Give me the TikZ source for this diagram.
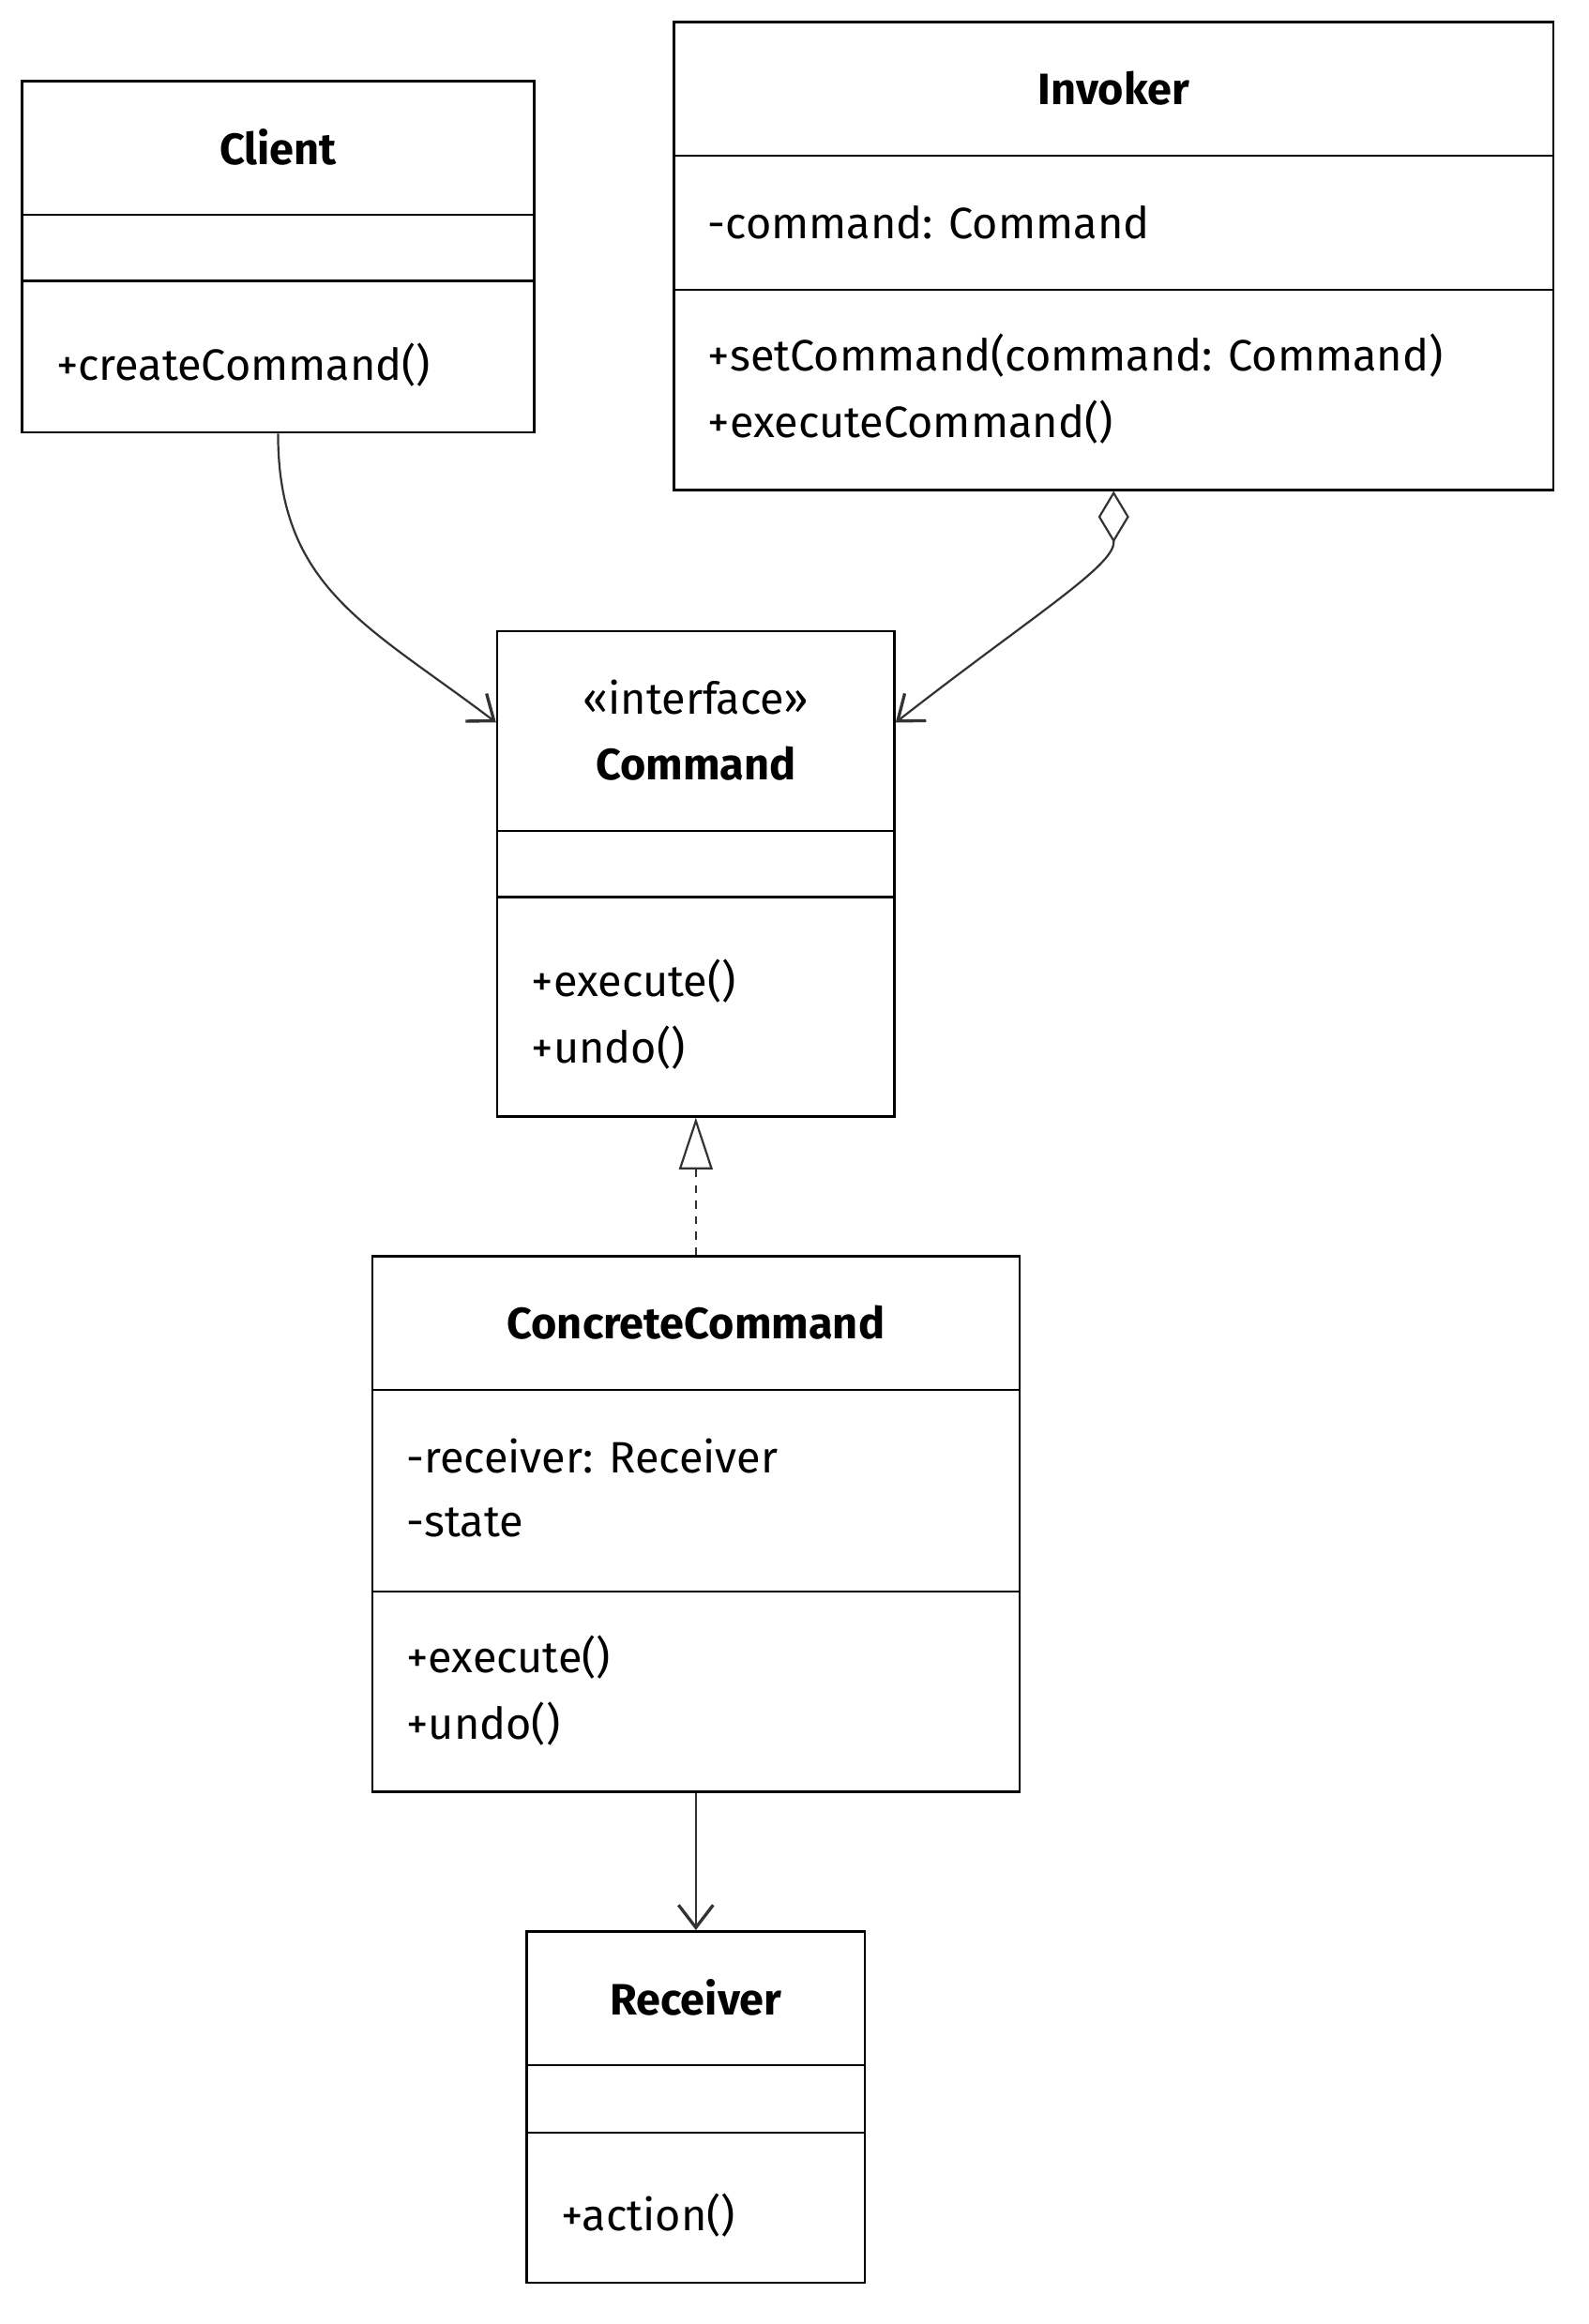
\documentclass[tikz,border=0pt]{standalone}
\usepackage{fontspec}
\setmainfont{Fira Sans}
\usetikzlibrary{arrows.meta, calc, fit, positioning}
\tikzset{
  box/.style={draw, line width=0.9pt, inner sep=0pt, fill=white},
  title/.style={font=\fontsize{17}{20}\selectfont\bfseries, anchor=center},
  member/.style={font=\fontsize{17}{20}\selectfont, anchor=west, inner sep=0pt},
  link/.style={draw=black!80, line width=0.8pt},
  tip/.style={-{Straight Barb[angle=75:11pt, line width=1.2pt]}},
}
\begin{document}
\begin{tikzpicture}[x=0.02cm, y=-0.02cm]
    \useasboundingbox (0,0) rectangle (1080,1580);
    % Client
    \node[box, fit={(15,55) (363,294)}] (client) {};
    \draw[line width=0.9pt] (15,146) -- (363,146) (15,191) -- (363,191);
    \node[title] (clientname) at (189,100) {Client};
    \node[member] (clientop) at (38,248) {+createCommand()};

    % Invoker
    \node[box, fit={(458,15) (1056,333)}] (invoker) {};
    \draw[line width=0.9pt] (458,106) -- (1056,106) (458,197) -- (1056,197);
    \node[title] (invokername) at (757,60) {Invoker};
    \node[member] (invokerattr) at (481,151) {-command: Command};
    \node[member] (invokerop1) at (481,242) {+setCommand(command: Command)};
    \node[member] (invokerop2) at (481,287) {+executeCommand()};

    % Command
    \node[box, fit={(338,429) (608,759)}] (command) {};
    \draw[line width=0.9pt] (338,565) -- (608,565) (338,610) -- (608,610);
    \node[font=\fontsize{17}{20}\selectfont] (stereo) at (473,474) {«interface»};
    \node[title] (commandname) at (473,519) {Command};
    \node[member] (commandop1) at (361,667) {+execute()};
    \node[member] (commandop2) at (361,712) {+undo()};

    % ConcreteCommand
    \node[box, fit={(253,854) (693,1218)}] (concrete) {};
    \draw[line width=0.9pt] (253,945) -- (693,945) (253,1082) -- (693,1082);
    \node[title] (concretename) at (473,899) {ConcreteCommand};
    \node[member] (concreteattr1) at (276,990) {-receiver: Receiver};
    \node[member] (concreteattr2) at (276,1035) {-state};
    \node[member] (concreteop1) at (276,1127) {+execute()};
    \node[member] (concreteop2) at (276,1172) {+undo()};

    % Receiver
    \node[box, fit={(358,1313) (588,1552)}] (receiver) {};
    \draw[line width=0.9pt] (358,1404) -- (588,1404) (358,1450) -- (588,1450);
    \node[title] (receivername) at (473,1358) {Receiver};
    \node[member] (receiverop) at (381,1506) {+action()};

    % Connectors
    \coordinate (cmdleft) at ($(command.north west)+(0,63)$);
    \coordinate (cmdright) at ($(command.north east)+(0,63)$);
    \draw[link, tip] (client.south) .. controls (189,400) and (250,425) .. (cmdleft);
    \draw[link, {Diamond[open, length=20pt, width=12pt]}-{Straight Barb[angle=75:11pt, line width=1.2pt]}] (invoker.south) -- ++(0,35) .. controls (757,385) and (700,420) .. (cmdright);
    \draw[link, dashed, -{Triangle[open, length=20pt, width=13pt, line width=0.8pt]}] (concrete.north) -- (command.south);
    \draw[link, tip] (concrete.south) -- (receiver.north);
\end{tikzpicture}
\end{document}
